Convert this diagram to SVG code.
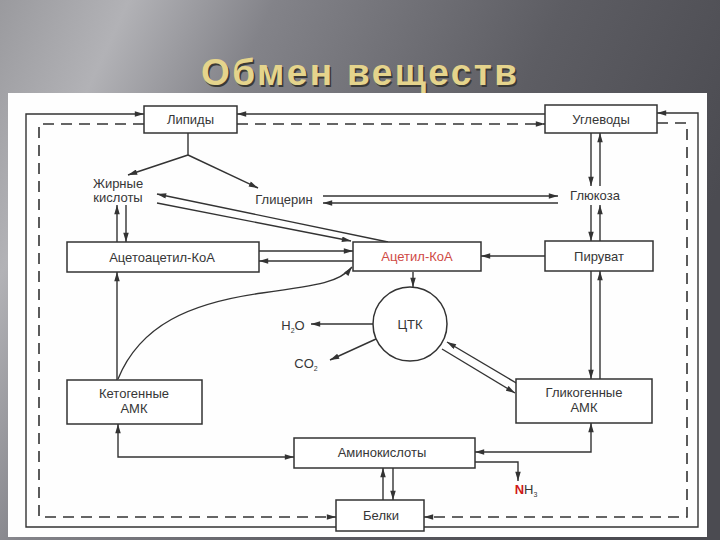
<svg xmlns="http://www.w3.org/2000/svg" width="720" height="540" viewBox="0 0 720 540">
<defs>
<linearGradient id="bg" x1="0" y1="0" x2="1" y2="0.35">
<stop offset="0" stop-color="#9a9a9e"/>
<stop offset="0.16" stop-color="#b2b2b6"/>
<stop offset="0.34" stop-color="#838389"/>
<stop offset="0.7" stop-color="#5d5d63"/>
<stop offset="1" stop-color="#4b4b51"/>
</linearGradient>
<marker id="a" viewBox="0 0 10 6" refX="10" refY="3" markerWidth="10" markerHeight="5.5" markerUnits="userSpaceOnUse" orient="auto-start-reverse">
<path d="M0,0 L10,3 L0,6 z" fill="#333"/>
</marker>
<style>
.bx{fill:#fff;stroke:#333;stroke-width:1.5}
.ln{fill:none;stroke:#333;stroke-width:1.4}
.ds{fill:none;stroke:#333;stroke-width:1.6;stroke-dasharray:11 7}
.ae{marker-end:url(#a)}
.as{marker-start:url(#a)}
.t{font-family:"Liberation Sans",Arial,sans-serif;font-size:13px;fill:#363636;text-anchor:middle}
.red{fill:#cf4a45}
</style>
</defs>
<rect x="0" y="0" width="720" height="540" fill="url(#bg)"/>
<text x="360.5" y="86.5" font-family="Liberation Sans,Arial,sans-serif" font-weight="bold" font-size="37" text-anchor="middle" textLength="316" fill="#3a3a36">Обмен веществ</text>
<text x="359" y="85" font-family="Liberation Sans,Arial,sans-serif" font-weight="bold" font-size="37" text-anchor="middle" textLength="316" fill="#e5d48c">Обмен веществ</text>
<rect x="8" y="93" width="699" height="444" fill="#fefefe"/>

<g id="connectors">
<polyline class="ln ae" points="336,527 26,527 26,114 144,114"/>
<polyline class="ds ae" points="144,124 39,124 39,517 336,517"/>
<polyline class="ln ae" points="424,527 698,527 698,113 657,113"/>
<polyline class="ds ae" points="657,123 687,123 687,517 424,517"/>
<line class="ln ae" x1="545" y1="114" x2="237" y2="114"/>
<line class="ds ae" x1="237" y1="124" x2="545" y2="124"/>
<polyline class="ln" points="188,133 188,155"/>
<line class="ln ae" x1="188" y1="155" x2="128" y2="175"/>
<line class="ln ae" x1="188" y1="155" x2="258" y2="188"/>
<line class="ln ae" x1="591" y1="133" x2="591" y2="186"/>
<line class="ln ae" x1="600" y1="186" x2="600" y2="133"/>
<line class="ln ae" x1="591" y1="205" x2="591" y2="241"/>
<line class="ln ae" x1="600" y1="241" x2="600" y2="205"/>
<line class="ln ae" x1="591" y1="271" x2="591" y2="379"/>
<line class="ln ae" x1="600" y1="379" x2="600" y2="271"/>
<line class="ln ae" x1="323" y1="196" x2="558" y2="196"/>
<line class="ln ae" x1="558" y1="203" x2="323" y2="203"/>
<line class="ln ae" x1="388" y1="242" x2="157" y2="194"/>
<line class="ln ae" x1="157" y1="203" x2="351" y2="241"/>
<line class="ln ae" x1="117" y1="242" x2="117" y2="205"/>
<line class="ln ae" x1="126" y1="205" x2="126" y2="242"/>
<line class="ln ae" x1="259" y1="251" x2="353" y2="251"/>
<line class="ln ae" x1="353" y1="261" x2="259" y2="261"/>
<line class="ln ae" x1="545" y1="256" x2="481" y2="256"/>
<line class="ln ae" x1="413" y1="272" x2="413" y2="287"/>
<line class="ln ae" x1="373" y1="324" x2="311" y2="324"/>
<line class="ln ae" x1="376" y1="339" x2="330" y2="360"/>
<line class="ln ae" x1="518" y1="384" x2="447" y2="342"/>
<line class="ln ae" x1="442" y1="349" x2="515" y2="393"/>
<line class="ln ae" x1="117" y1="380" x2="117" y2="272"/>
<path class="ln ae" d="M118,379 C140,325 190,303 262,293 C320,285 340,282 352,267"/>
<polyline class="ln ae as" points="118,424 118,457 294,457"/>
<polyline class="ln ae as" points="591,423 591,452 475,452"/>
<polyline class="ln ae" points="475,462 518,462 518,481"/>
<line class="ln ae" x1="383" y1="500" x2="383" y2="468"/>
<line class="ln ae" x1="393" y1="468" x2="393" y2="500"/>
</g>

<g id="lipidy"><rect class="bx" x="144" y="106" width="93" height="27"/><text class="t" x="190.5" y="124">Липиды</text></g>
<g id="uglevody"><rect class="bx" x="545" y="105" width="112" height="28"/><text class="t" x="601" y="124">Углеводы</text></g>
<g id="zhirnye"><text class="t" x="118" y="188">Жирные</text><text class="t" x="118" y="202">кислоты</text></g>
<g id="glicerin"><text class="t" x="284" y="204">Глицерин</text></g>
<g id="glukoza"><text class="t" x="595" y="200">Глюкоза</text></g>
<g id="acetoacetil"><rect class="bx" x="67" y="242" width="192" height="30"/><text class="t" x="162" y="262">Ацетоацетил-КоА</text></g>
<g id="acetil"><rect class="bx" x="353" y="242" width="128" height="29"/><text class="t red" x="417" y="261">Ацетил-КоА</text></g>
<g id="piruvat"><rect class="bx" x="545" y="241" width="108" height="30"/><text class="t" x="599" y="261">Пируват</text></g>
<g id="ctk"><circle cx="410" cy="324" r="37" fill="#fff" stroke="#333" stroke-width="1.5"/><text class="t" x="410" y="329">ЦТК</text></g>
<g id="h2o"><text class="t" x="293" y="330">H<tspan font-size="7" dy="3">2</tspan><tspan dy="-3">O</tspan></text></g>
<g id="co2"><text class="t" x="306" y="368">CO<tspan font-size="7" dy="3">2</tspan></text></g>
<g id="ketogennye"><rect class="bx" x="67" y="380" width="135" height="44"/><text class="t" x="134" y="398" font-size="12.5">Кетогенные</text><text class="t" x="134" y="413" font-size="12.5">АМК</text></g>
<g id="glikogennye"><rect class="bx" x="516" y="379" width="136" height="44"/><text class="t" x="584" y="397" font-size="12.5">Гликогенные</text><text class="t" x="584" y="412" font-size="12.5">АМК</text></g>
<g id="aminokisloty"><rect class="bx" x="294" y="438" width="181" height="30"/><text class="t" x="382" y="457">Аминокислоты</text></g>
<g id="nh3"><text class="t" x="526" y="494"><tspan fill="#d01818" font-weight="bold">N</tspan>H<tspan font-size="7" dy="3">3</tspan></text></g>
<g id="belki"><rect class="bx" x="336" y="500" width="88" height="31"/><text class="t" x="381" y="520">Белки</text></g>
</svg>
